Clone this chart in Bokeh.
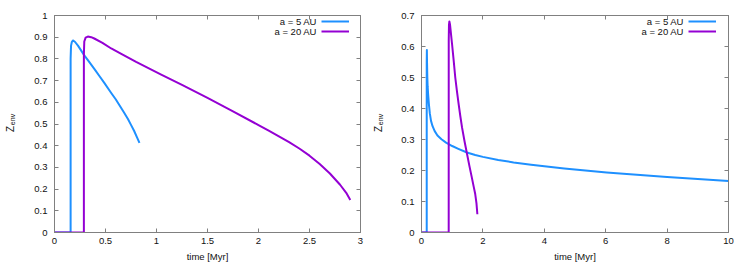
from bokeh.plotting import figure
from bokeh.models import (Range1d, FixedTicker, PrintfTickFormatter, LinearAxis,
                          Label, Legend, LegendItem, CustomJSTickFormatter)
from bokeh.layouts import row
from bokeh.core.properties import value
from bokeh.embed import file_html
from bokeh.resources import INLINE

# ---------------- data ----------------
series_names = ["a = 5 AU", "a = 20 AU"]

# left panel
left_t5 = [0.0, 0.158, 0.158, 0.162, 0.17, 0.18, 0.2, 0.23, 0.262, 0.294, 0.34,
           0.392, 0.44, 0.49, 0.556, 0.6, 0.64, 0.68, 0.72, 0.75, 0.78, 0.81, 0.833]
left_z5 = [0.0, 0.0, 0.80, 0.86, 0.878, 0.885, 0.879, 0.861, 0.838, 0.815, 0.786,
           0.753, 0.721, 0.688, 0.643, 0.614, 0.584, 0.554, 0.523, 0.496, 0.469,
           0.437, 0.413]
left_t20 = [0.0, 0.288, 0.288, 0.292, 0.305, 0.327, 0.36, 0.39, 0.47, 0.556, 0.65,
            0.8, 1.046, 1.25, 1.5, 1.75, 2.0, 2.1, 2.2, 2.3, 2.4, 2.5, 2.6, 2.7,
            2.8, 2.86, 2.9]
left_z20 = [0.0, 0.0, 0.82, 0.88, 0.898, 0.903, 0.9, 0.894, 0.874, 0.848, 0.824,
            0.786, 0.728, 0.68, 0.62, 0.558, 0.495, 0.4695, 0.4435, 0.4165, 0.387,
            0.354, 0.316, 0.272, 0.22, 0.183, 0.15]

# right panel
right_t5 = [0.0, 0.17, 0.17, 0.175, 0.18, 0.19, 0.2, 0.216, 0.24, 0.27, 0.31, 0.36,
            0.43, 0.52, 0.65, 0.8, 1.0, 1.2, 1.48, 1.75, 2.0, 2.5, 3.0, 3.57, 4.65,
            6.03, 8.0, 10.0]
right_z5 = [0.0, 0.0, 0.55, 0.589, 0.55, 0.5, 0.472, 0.446, 0.415, 0.385, 0.36,
            0.343, 0.327, 0.313, 0.301, 0.29, 0.279, 0.27, 0.258, 0.25, 0.244, 0.234,
            0.226, 0.2185, 0.2065, 0.1935, 0.179, 0.166]
right_t20 = [0.0, 0.886, 0.887, 0.895, 0.908, 0.93, 0.995, 1.05, 1.10, 1.155, 1.21,
             1.265, 1.32, 1.4, 1.48, 1.56, 1.64, 1.7, 1.75, 1.79, 1.82]
right_z20 = [0.0, 0.0, 0.62, 0.67, 0.681, 0.67, 0.608, 0.553, 0.5, 0.455, 0.414,
             0.375, 0.339, 0.295, 0.255, 0.215, 0.177, 0.148, 0.124, 0.095, 0.059]

left_xticks = [0, 0.5, 1, 1.5, 2, 2.5, 3]
left_yticks = [0, 0.1, 0.2, 0.3, 0.4, 0.5, 0.6, 0.7, 0.8, 0.9, 1]
right_xticks = [0, 2, 4, 6, 8, 10]
right_yticks = [0, 0.1, 0.2, 0.3, 0.4, 0.5, 0.6, 0.7]

x_label = "time [Myr]"
y_label_main = "Z"
y_label_sub = "env"

# ---------------- style ----------------
BLUE = "#1E90FF"
PURPLE = "#9400D3"
FRAME = "#808080"
FONT = "Liberation Sans"
FS = "9.5px"
TXT = "#111111"
H = 263


def style_axis(ax, ticks, labels=True):
    ax.ticker = FixedTicker(ticks=ticks)
    ax.axis_line_color = FRAME
    ax.axis_line_width = 1
    ax.major_tick_line_color = FRAME
    ax.major_tick_in = 4
    ax.major_tick_out = 0
    ax.minor_tick_line_color = None
    ax.major_label_text_font = FONT
    ax.major_label_text_color = TXT
    if labels:
        ax.formatter = PrintfTickFormatter(format="%.3g")
        ax.major_label_text_font_size = FS
    else:
        ax.formatter = CustomJSTickFormatter(code="return ''")
        ax.major_label_text_font_size = "1px"
        ax.major_label_standoff = 0


def label_strip(width, zx, ex):
    s = figure(width=width, height=H, min_border=0, toolbar_location=None,
               output_backend="svg", x_axis_type=None, y_axis_type=None)
    s.outline_line_color = None
    s.grid.visible = False
    s.add_layout(Label(x=zx, y=H - 160.5, x_units="screen", y_units="screen",
                       text=y_label_main, angle=90, angle_units="deg",
                       text_align="center", text_baseline="middle",
                       text_font=FONT, text_font_size="10px", text_color=TXT))
    s.add_layout(Label(x=ex, y=H - 151, x_units="screen", y_units="screen",
                       text=y_label_sub, angle=90, angle_units="deg",
                       text_align="center", text_baseline="middle",
                       text_font=FONT, text_font_size="7px", text_color=TXT))
    return s


def make_panel(t5, z5, t20, z20, xr, yr, xt, yt, fw, bl, br):
    p = figure(frame_width=fw, frame_height=217,
               x_range=Range1d(*xr), y_range=Range1d(*yr),
               output_backend="svg", toolbar_location=None,
               min_border_left=bl, min_border_right=br,
               min_border_top=15, min_border_bottom=31)
    p.grid.visible = False
    p.outline_line_color = FRAME
    p.background_fill_color = "white"
    p.border_fill_color = "white"

    style_axis(p.xaxis[0], xt)
    p.xaxis[0].major_label_standoff = 5
    p.xaxis[0].axis_label = x_label
    p.xaxis[0].axis_label_text_font = FONT
    p.xaxis[0].axis_label_text_font_size = FS
    p.xaxis[0].axis_label_text_font_style = "normal"
    p.xaxis[0].axis_label_text_color = TXT
    p.xaxis[0].axis_label_standoff = 4

    style_axis(p.yaxis[0], yt)
    p.yaxis[0].major_label_standoff = 7

    top = LinearAxis()
    style_axis(top, xt, labels=False)
    p.add_layout(top, "above")
    right = LinearAxis()
    style_axis(right, yt, labels=False)
    p.add_layout(right, "right")

    r5 = p.line(t5, z5, line_color=BLUE, line_width=2, line_join="round")
    r20 = p.line(t20, z20, line_color=PURPLE, line_width=2, line_join="round")

    legend = Legend(items=[LegendItem(label=value(""), renderers=[r5]),
                           LegendItem(label=value(""), renderers=[r20])],
                    location=(266.5, 195.7), padding=0, spacing=0,
                    glyph_width=28, glyph_height=10, label_width=0,
                    label_height=10, label_standoff=0, margin=0,
                    border_line_color=None, background_fill_alpha=0)
    p.add_layout(legend)

    for i, name in enumerate(series_names):
        p.add_layout(Label(x=262.5, y=211 - 10 * i, x_units="screen", y_units="screen",
                           text=name, text_align="right", text_baseline="middle",
                           text_font=FONT, text_font_size=FS, text_color=TXT))
    return p


s1 = label_strip(20, 10, 12)
p1 = make_panel(left_t5, left_z5, left_t20, left_z20, (0, 3), (0, 1),
                left_xticks, left_yticks, 306, 34, 10)
s2 = label_strip(20, 8, 10)
p2 = make_panel(right_t5, right_z5, right_t20, right_z20, (0, 10), (0, 0.7),
                right_xticks, right_yticks, 307, 31, 10)

layout = row(s1, p1, s2, p2, spacing=0)
open("out.html", "w").write(file_html(layout, INLINE))
